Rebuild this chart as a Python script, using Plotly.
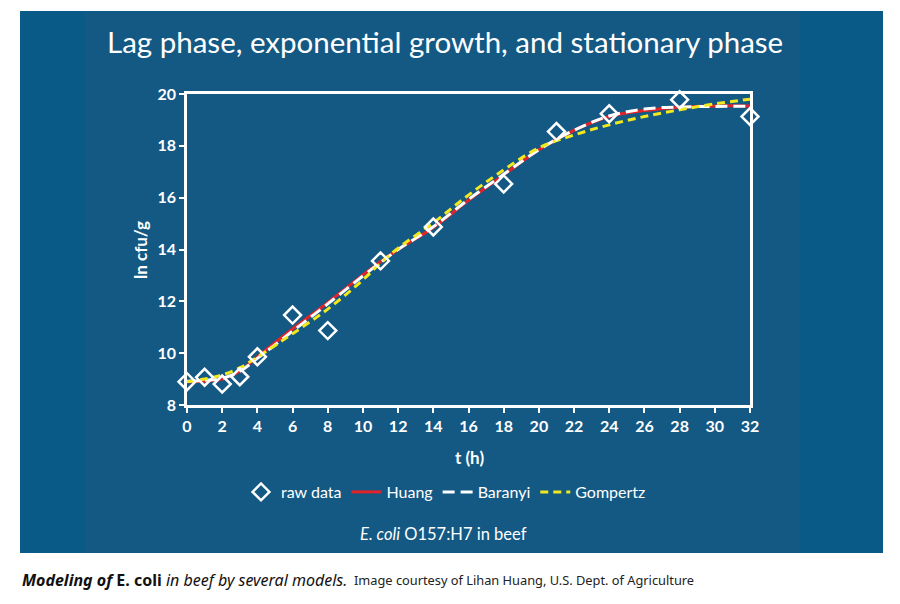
import plotly.graph_objects as go

# Raw data
t_raw = [0, 1, 2, 3, 4, 6, 8, 11, 14, 18, 21, 24, 28, 32]
y_raw = [8.9, 9.07, 8.81, 9.09, 9.86, 11.47, 10.87, 13.56, 14.87, 16.53, 18.55, 19.24, 19.78, 19.13]

# Model curves
t_fit = [0, 1, 2, 3, 4, 6, 8, 10, 11, 12, 14, 16, 18, 20, 22, 24, 26, 28, 30, 32]
y_huang = [8.9, 8.92, 9.0, 9.3, 9.86, 10.93, 11.95, 13.02, 13.53, 14.0, 14.85, 15.9, 16.88, 17.85, 18.6, 19.13, 19.36, 19.49, 19.54, 19.54]
y_baranyi = [8.92, 8.95, 9.03, 9.3, 9.8, 10.85, 11.9, 12.98, 13.5, 14.0, 14.88, 15.93, 16.9, 17.85, 18.6, 19.15, 19.42, 19.5, 19.52, 19.53]
y_gompertz = [8.9, 9.0, 9.16, 9.43, 9.85, 10.75, 11.7, 12.83, 13.48, 14.05, 15.03, 16.1, 17.07, 17.92, 18.42, 18.81, 19.13, 19.39, 19.62, 19.8]

x_ticks = list(range(0, 33, 2))
y_ticks = list(range(8, 21, 2))

W, H = 900, 604
L, R, T, B = 187, 750, 94, 405  # plot area in px
PW, PH = R - L, B - T


def px(x):
    return (x - L) / PW


def py(y):
    return (B - y) / PH


WHITE = "#ffffff"
FONT = "Lato, 'Open Sans', sans-serif"
CAP_FONT = "'Noto Sans', sans-serif"

fig = go.Figure()
fig.add_trace(go.Scatter(x=t_fit, y=y_huang, mode="lines", name="Huang",
                         line=dict(color="#e2232a", width=3, shape="spline"),
                         legendrank=2, cliponaxis=False))
fig.add_trace(go.Scatter(x=t_fit, y=y_baranyi, mode="lines", name="Baranyi",
                         line=dict(color=WHITE, width=3, dash="12px,6px", shape="spline"),
                         legendrank=3, cliponaxis=False))
fig.add_trace(go.Scatter(x=t_fit, y=y_gompertz, mode="lines", name="Gompertz",
                         line=dict(color="#f2e81e", width=3, dash="8px,5px", shape="spline"),
                         legendrank=4, cliponaxis=False))
fig.add_trace(go.Scatter(x=t_raw, y=y_raw, mode="markers", name="raw data",
                         marker=dict(symbol="diamond-open", size=13, color=WHITE,
                                     line=dict(color=WHITE, width=2.5)),
                         legendrank=1, cliponaxis=False))

shapes = [
    dict(type="rect", xref="paper", yref="paper", x0=px(20), x1=px(883), y0=py(553), y1=py(11),
         fillcolor="#0a5a88", line=dict(width=0), layer="below"),
    dict(type="rect", xref="paper", yref="paper", x0=px(85), x1=px(800), y0=py(553), y1=py(12),
         fillcolor="#135984", line=dict(width=0), layer="below"),
]

annotations = [
    dict(text="Lag phase, exponential growth, and stationary phase", x=px(445), y=py(42),
         xref="paper", yref="paper", showarrow=False, xanchor="center", yanchor="middle",
         font=dict(family=FONT, size=29.5, color=WHITE)),
    dict(text="<b>ln cfu/g</b>", x=px(140), y=py(250), xref="paper", yref="paper",
         showarrow=False, textangle=-90, xanchor="center", yanchor="middle",
         font=dict(family=FONT, size=17, color=WHITE)),
    dict(text="<b>t (h)</b>", x=px(469), y=py(457), xref="paper", yref="paper",
         showarrow=False, xanchor="center", yanchor="middle",
         font=dict(family=FONT, size=17, color=WHITE)),
    dict(text="<i>E. coli</i> O157:H7 in beef", x=px(443), y=py(534), xref="paper", yref="paper",
         showarrow=False, xanchor="center", yanchor="middle",
         font=dict(family=FONT, size=16.5, color=WHITE)),
    dict(text="<b><i>Modeling of</i></b> <b>E. coli</b> <i>in beef by several models.</i>",
         x=px(20), y=py(580), xref="paper", yref="paper", showarrow=False,
         xanchor="left", yanchor="middle",
         font=dict(family=CAP_FONT, size=16, color="#111111")),
    dict(text="Image courtesy of Lihan Huang, U.S. Dept. of Agriculture",
         x=px(352), y=py(580), xref="paper", yref="paper", showarrow=False,
         xanchor="left", yanchor="middle",
         font=dict(family=CAP_FONT, size=12.8, color="#222222")),
]

axis_common = dict(showgrid=False, zeroline=False, showline=True, linecolor=WHITE, linewidth=2.5,
                   mirror=True, ticks="outside", tickcolor=WHITE, ticklen=5, tickwidth=2,
                   tickfont=dict(family=FONT, size=16, color=WHITE, weight="bold"))

fig.update_layout(
    width=W, height=H,
    margin=dict(l=L, r=W - R, t=T, b=H - B, pad=0),
    paper_bgcolor="#ffffff",
    plot_bgcolor="rgba(0,0,0,0)",
    shapes=shapes,
    annotations=annotations,
    xaxis=dict(range=[0, 32], tickvals=x_ticks, **axis_common),
    yaxis=dict(range=[8, 20], tickvals=y_ticks, **axis_common),
    legend=dict(orientation="h", x=px(446), y=py(492), xanchor="center", yanchor="middle",
                bgcolor="rgba(0,0,0,0)", font=dict(family=FONT, size=16, color=WHITE),
                itemwidth=30, tracegroupgap=0),
    showlegend=True,
)

fig.write_html("out.html")
